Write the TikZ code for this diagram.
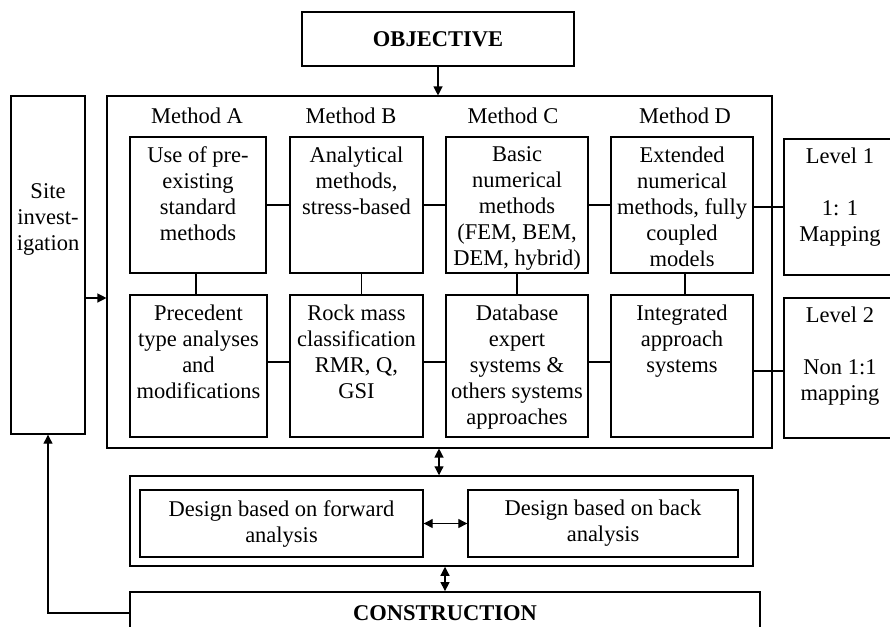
\documentclass[tikz,border=0pt]{standalone}
\usepackage{fontspec}
\setmainfont{Liberation Serif}
\usetikzlibrary{arrows.meta}
\begin{document}
\begin{tikzpicture}[x=1pt,y=-1pt,
  every node/.style={font=\fontsize{22.5}{26}\selectfont},
  box/.style={draw, line width=1.4pt, inner sep=0pt},
  bigbox/.style={draw, line width=1.8pt, inner sep=0pt},
  txt/.style={align=center, inner sep=0pt},
  conn/.style={line width=1.1pt},
  arr/.style={line width=1.2pt, -{Triangle[length=9pt,width=9pt]}},
  darr/.style={line width=1.2pt, {Triangle[length=9pt,width=9pt]}-{Triangle[length=9pt,width=9pt]}}
]
\clip (0,0) rectangle (890,626);
\useasboundingbox (0,0) rectangle (890,626);
\fill[white] (0,0) rectangle (890,626);

% top and outer boxes
\node[bigbox, minimum width=272pt, minimum height=54pt] (obj) at (438,39) {};
\node[txt, font=\fontsize{22.5}{26}\selectfont\bfseries] (objt) at (obj.center) {OBJECTIVE};
\node[draw, line width=1.1pt, minimum width=665pt, minimum height=352pt, inner sep=0pt] (main) at (439.5,272) {};
\node[box, minimum width=74pt, minimum height=338pt] (site) at (48,265) {};
\node[txt] (sitet) at (48,219) {Site\\invest-\\igation};

% method labels
\node[txt] (mA) at (197,116) {Method A};
\node[txt] (mB) at (351,116) {Method B};
\node[txt] (mC) at (513,116) {Method C};
\node[txt] (mD) at (685,116) {Method D};

% row 1
\node[box, minimum width=136pt, minimum height=136pt] (A1) at (198,205) {};
\node[box, minimum width=133pt, minimum height=136pt] (B1) at (356.5,205) {};
\node[box, minimum width=142pt, minimum height=136pt] (C1) at (517,205) {};
\node[box, minimum width=142pt, minimum height=136pt] (D1) at (682,205) {};
\node[txt, anchor=north] (A1t) at ([yshift=-10pt]A1.north) {Use of pre-\\existing\\standard\\methods};
\node[txt, anchor=north] (B1t) at ([yshift=-10pt]B1.north) {Analytical\\methods,\\stress-based};
\node[txt, anchor=north] (C1t) at ([yshift=-10pt]C1.north) {Basic\\numerical\\methods\\(FEM, BEM,\\DEM, hybrid)};
\node[txt, anchor=north] (D1t) at ([yshift=-10pt]D1.north) {Extended\\numerical\\methods, fully\\coupled\\models};

% row 2
\node[box, minimum width=137pt, minimum height=142pt] (A2) at (198.5,366) {};
\node[box, minimum width=133pt, minimum height=142pt] (B2) at (356.5,366) {};
\node[box, minimum width=142pt, minimum height=142pt] (C2) at (517,366) {};
\node[box, minimum width=142pt, minimum height=142pt] (D2) at (682,366) {};
\node[txt, anchor=north] (A2t) at ([yshift=-10pt]A2.north) {Precedent\\type analyses\\and\\modifications};
\node[txt, anchor=north] (B2t) at ([yshift=-10pt]B2.north) {Rock mass\\classification\\RMR, Q,\\GSI};
\node[txt, anchor=north] (C2t) at ([yshift=-10pt]C2.north) {Database\\expert\\systems \&\\others systems\\approaches};
\node[txt, anchor=north] (D2t) at ([yshift=-10pt]D2.north) {Integrated\\approach\\systems};

% levels
\node[box, minimum width=114pt, minimum height=136pt] (L1) at (841,207) {};
\node[box, minimum width=114pt, minimum height=140pt] (L2) at (841,368) {};
\node[txt, anchor=north] (L1t) at ([yshift=-9pt,xshift=-1pt]L1.north) {Level 1\\[26pt]1: 1\\Mapping};
\node[txt, anchor=north] (L2t) at ([yshift=-9pt,xshift=-1pt]L2.north) {Level 2\\[26pt]Non 1:1\\mapping};

% design
\node[draw, line width=1.5pt, minimum width=623pt, minimum height=90pt, inner sep=0pt] (des) at (441.5,521) {};
\node[box, minimum width=283pt, minimum height=67pt] (fwd) at (281.5,523.5) {};
\node[box, minimum width=270pt, minimum height=67pt] (back) at (603,523.5) {};
\node[txt] (fwdt) at (fwd.center) {Design based on forward\\analysis};
\node[txt] (backt) at (back.center) {Design based on back\\analysis};

% construction
\node[bigbox, minimum width=630pt, minimum height=70pt] (con) at (445,627) {};
\node[txt, font=\fontsize{22.5}{26}\selectfont\bfseries] (cont) at (445,613) {CONSTRUCTION};

% connectors
\draw[conn] (A1.east) -- (B1.west);
\draw[conn] (B1.east) -- (C1.west);
\draw[conn] (C1.east) -- (D1.west);
\draw[conn] ([yshift=-2pt]D1.east) -- ([yshift=-2pt]D1.east -| L1.west);
\draw[conn] ([yshift=4pt]A2.east) -- ([yshift=4pt]B2.west);
\draw[conn] ([yshift=4pt]B2.east) -- ([yshift=4pt]C2.west);
\draw[conn] ([yshift=4pt]C2.east) -- ([yshift=4pt]D2.west);
\draw[conn] ([yshift=-5pt]D2.east) -- ([yshift=-5pt]D2.east -| L2.west);
\draw[conn] ([xshift=-2pt]A1.south) -- ([xshift=-2pt]A1.south |- A2.north);
\draw[conn] ([xshift=5pt]B1.south) -- ([xshift=5pt]B1.south |- B2.north);
\draw[conn] (C1.south) -- (C2.north);
\draw[conn] ([xshift=3pt]D1.south) -- ([xshift=3pt]D1.south |- D2.north);

\draw[arr] (obj.south) -- (obj.south |- main.north);
\draw[arr] ([yshift=-33pt]site.east) -- ([yshift=-33pt]site.east -| main.west);
\draw[darr] ([xshift=-0.5pt]main.south) -- ([xshift=-0.5pt]main.south |- des.north);
\draw[darr] (fwd.east) -- (back.west);
\draw[darr] (con.north |- des.south) -- (con.north);
\draw[arr] ([yshift=14pt]con.west) -| (site.south);
\end{tikzpicture}
\end{document}
